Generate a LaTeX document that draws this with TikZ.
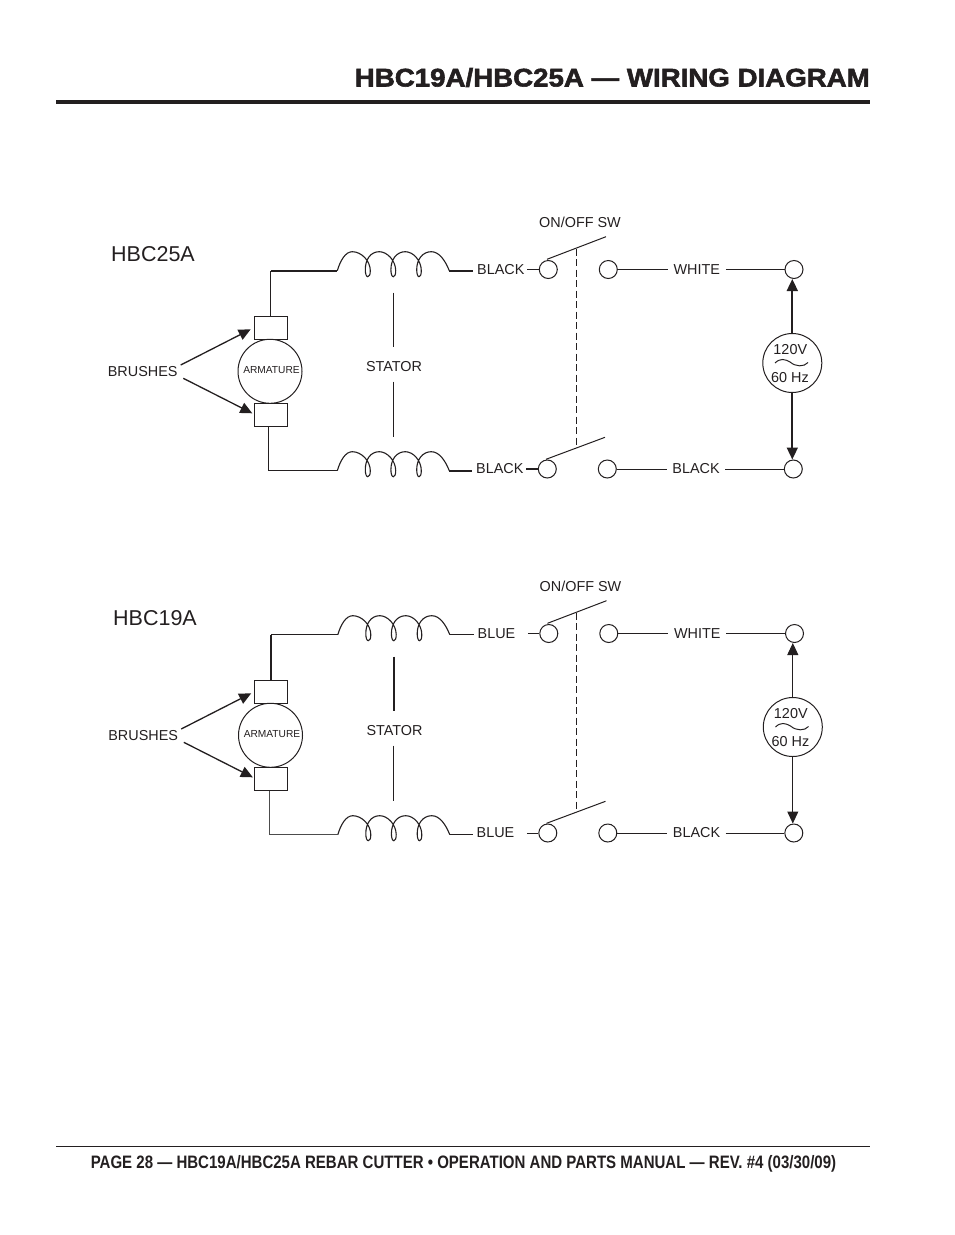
\documentclass[tikz,border=0pt]{standalone}
\usepackage{fontspec}
\setmainfont{Liberation Sans}
\newfontfamily\titlefont[FakeStretch=1.085,FakeBold=2.2]{Liberation Sans Bold}
\newfontfamily\footfont[FakeStretch=0.835]{Liberation Sans Bold}
\usetikzlibrary{arrows.meta}
\definecolor{ink}{HTML}{231F20}
\tikzset{
  x=1pt,y=-1pt,
  every node/.style={inner sep=0pt},
  wirelw/.style={line width=1pt},
  lbl/.style={font=\fontsize{14.4}{16}\selectfont},
  wirelbl/.style={lbl,anchor=west,text width=46,inner xsep=4,align=left},
  rightlbl/.style={lbl,minimum width=58},
  term/.style={circle,draw,line width=1pt,minimum size=18},
  brushbox/.style={rectangle,draw,minimum width=33,minimum height=23,line width=1pt},
  tipped/.style={-{Triangle[length=12,width=11]}},
  coil/.pic={
    \coordinate (-a) at (0,0);
    \coordinate (-b) at (112,0);
    \draw[line width=1.1pt]
      (0,0) .. controls (3,-10) and (8,-19) .. (15,-19)
      .. controls (24,-19) and (33,-10) .. (33,0)
      .. controls (33,4) and (32,6) .. (30.4,6)
      .. controls (29,6) and (28,3) .. (28,-1)
      .. controls (28,-11) and (33,-19) .. (42,-19)
      .. controls (50,-19) and (58.4,-10) .. (58.4,0)
      .. controls (58.4,4) and (57.4,6) .. (56,6)
      .. controls (54.6,6) and (53.6,3) .. (53.6,-1)
      .. controls (53.6,-11) and (59,-19) .. (68,-19)
      .. controls (76,-19) and (84,-10) .. (84,0)
      .. controls (84,4) and (83,6) .. (81.7,6)
      .. controls (80.4,6) and (79.4,3) .. (79.4,-1)
      .. controls (79.4,-11) and (85,-19) .. (94,-19)
      .. controls (102,-19) and (108,-10) .. (112,0);
  }
}
\newcommand{\wiring}[6]{%
\begin{scope}[shift={#2},name prefix=#1-,#3]
  \node[font=\fontsize{21.5}{24}\selectfont] (title) at (#5,254) {#4};
  \node[brushbox] (bt) at (270.5,327.8) {};
  \node[brushbox,bbot] (bb) at (270.5,415) {};
  \node[circle,draw,line width=1pt,minimum size=64] (arm) at (270,371.3) {};
  \node[font=\fontsize{10.2}{12}\selectfont] (armlbl) at (271.5,370.3) {ARMATURE};
  \node[lbl] (brushes) at (142.7,371.3) {BRUSHES};
  \coordinate (ba1) at (180.7,365);
  \coordinate (ba2) at (250.7,329.3);
  \coordinate (bb1) at (183.3,378.3);
  \coordinate (bb2) at (252.3,413.3);
  \draw[tipped,line width=1.3pt] (ba1) -- (ba2);
  \draw[tipped,line width=1.3pt] (bb1) -- (bb2);
  \pic (cu) at (337.3,270.7) {coil};
  \pic (cl) at (337.3,470.7) {coil};
  \coordinate (corner) at (bt.north |- cu-a);
  \draw[wvert] (bt.north) -- (corner);
  \draw[wtop] (corner) -- (cu-a);
  \draw[wbot] ([xshift=-1.8]bb.south) |- (cl-a);
  \node[lbl] (stator) at (394,366.3) {STATOR};
  \coordinate (s1) at (393.3,292.7);
  \coordinate (s2) at (393.3,347.3);
  \coordinate (s3) at (393.3,381.7);
  \coordinate (s4) at (393.3,436.7);
  \draw[wstat] (s1) -- (s2);
  \draw[wirelw] (s3) -- (s4);
  \node[term] (t1) at (548.3,269.5) {};
  \node[term] (t2) at (608.3,269.5) {};
  \node[term] (t3) at (794,269.5) {};
  \node[term] (b1) at (547.3,469) {};
  \node[term] (b2) at (607.3,469) {};
  \node[term] (b3) at (793.3,469) {};
  \node[wirelbl] (lt) at (473,269.5) {#6};
  \node[wirelbl] (lb) at (472,469) {#6};
  \node[rightlbl] (white) at (696.7,269.5) {WHITE};
  \node[rightlbl] (black) at (696,469) {BLACK};
  \draw[wtop] (cu-b) -- (cu-b -| lt.west);
  \draw[wtop] (cl-b) -- (cl-b -| lb.west);
  \draw[wtop] (lt.east) -- (t1);
  \draw[wtop] (lb.east) -- (b1);
  \draw[wirelw] (t2) -- (white.west);
  \draw[wirelw] (white.east) -- (t3);
  \draw[wirelw] (b2) -- (black.west);
  \draw[wirelw] (black.east) -- (b3);
  \coordinate (a1) at (547,259.3);
  \coordinate (a2) at (606,236.7);
  \coordinate (a3) at (546,459.3);
  \coordinate (a4) at (605,437.3);
  \draw[wirelw] (a1) -- (a2);
  \draw[wirelw] (a3) -- (a4);
  \coordinate (d1) at (576.3,248.7);
  \coordinate (d2) at (576.3,447.3);
  \draw[line width=0.8pt,dash pattern=on 7pt off 3.5pt] (d1) -- (d2);
  \node[lbl] (sw) at (580,222) {ON/OFF SW};
  \node[circle,draw,line width=1pt,minimum size=59] (src) at (792.3,363) {};
  \node[lbl] (v) at (790.3,349.7) {120V};
  \node[lbl] (hz) at (790,377.3) {60 Hz};
  \draw[line width=1pt] (775,363) .. controls (780,358) and (785,359) .. (790,362) .. controls (796,367) and (804,367) .. (808,362.5);
  \draw[tipped,wsrc] (src.north) -- (src.north |- t3.south);
  \draw[tipped,wsrc] (src.south) -- (src.south |- b3.north);
\end{scope}}
\begin{document}
\begin{tikzpicture}[color=ink]
  \useasboundingbox (0,0) rectangle (954,1235);
  \node[anchor=east,font=\titlefont\fontsize{25.5}{28}\selectfont] (head) at (870,77.5) {HBC19A/HBC25A — WIRING DIAGRAM};
  \coordinate (r1) at (56,102);
  \coordinate (r2) at (870,102);
  \draw[line width=4pt] (r1) -- (r2);
  \wiring{u}{(0,0)}{wtop/.style={line width=1.7pt},wvert/.style={line width=1pt},wbot/.style={line width=1pt},wstat/.style={line width=1pt},bbot/.style={},wsrc/.style={line width=1.7pt}}{HBC25A}{153}{BLACK}
  \wiring{l}{(0.5,364)}{wtop/.style={line width=1pt},wvert/.style={line width=1.7pt},wbot/.style={line width=1.4pt,color=black!70},wstat/.style={line width=1.8pt},bbot/.style={line width=1.6pt},wsrc/.style={line width=1pt}}{HBC19A}{154.5}{BLUE}
  \coordinate (f1) at (56,1146.3);
  \coordinate (f2) at (870,1146.3);
  \draw[line width=0.8pt] (f1) -- (f2);
  \node[font=\footfont\fontsize{18}{20}\selectfont] (foot) at (463.5,1164) {PAGE 28 — HBC19A/HBC25A REBAR CUTTER • OPERATION AND PARTS MANUAL — REV. \#4 (03/30/09)};
\end{tikzpicture}
\end{document}
